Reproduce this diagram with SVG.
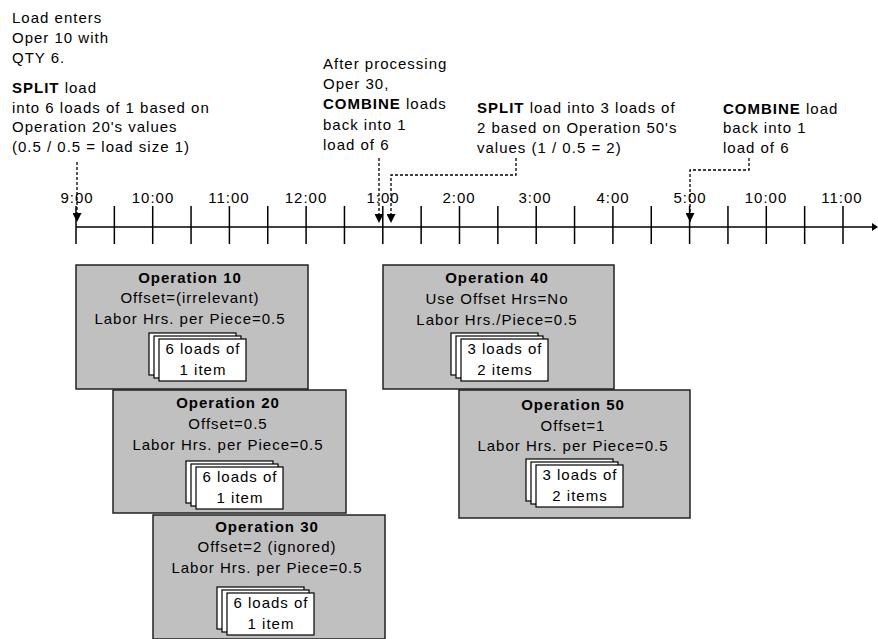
<svg xmlns="http://www.w3.org/2000/svg" xmlns:xlink="http://www.w3.org/1999/xlink" width="878" height="639" viewBox="0 0 878 639">
<defs>
<style>
text{font-family:"Liberation Sans",Arial,sans-serif;font-size:15px;letter-spacing:1px;fill:#000}
.b{font-weight:bold}
.m{text-anchor:middle}
.box{fill:#c0c0c0;stroke:#222;stroke-width:1.5}
.card{fill:#fff;stroke:#000;stroke-width:1.2}
.tick{stroke:#000;stroke-width:1.5}
.dash{fill:none;stroke:#000;stroke-width:1.3;stroke-dasharray:3,2}
</style>
<marker id="ah" viewBox="0 0 10 10" refX="10" refY="5" markerWidth="9" markerHeight="9" markerUnits="userSpaceOnUse" orient="auto">
<path d="M0,0 L10,5 L0,10 Z" fill="#000"/>
</marker>
<g id="stack">
<rect class="card" x="0" y="0" width="87" height="42"/>
<rect class="card" x="5" y="3" width="87" height="42"/>
<rect class="card" x="10" y="6" width="87" height="42"/>
</g>
</defs>
<rect width="878" height="639" fill="#fff"/>

<g id="notes">
<text x="12" y="23">Load enters</text>
<text x="12" y="43">Oper 10 with</text>
<text x="12" y="63">QTY 6.</text>
<text x="12" y="93"><tspan class="b">SPLIT</tspan> load</text>
<text x="12" y="113">into 6 loads of 1 based on</text>
<text x="12" y="132">Operation 20's values</text>
<text x="12" y="152">(0.5 / 0.5 = load size 1)</text>

<text x="323" y="69">After processing</text>
<text x="323" y="89">Oper 30,</text>
<text x="323" y="109"><tspan class="b">COMBINE</tspan> loads</text>
<text x="323" y="130">back into 1</text>
<text x="323" y="150">load of 6</text>

<text x="477" y="113"><tspan class="b">SPLIT</tspan> load into 3 loads of</text>
<text x="477" y="133">2 based on Operation 50's</text>
<text x="477" y="153">values (1 / 0.5 = 2)</text>

<text x="723" y="114"><tspan class="b">COMBINE</tspan> load</text>
<text x="723" y="133">back into 1</text>
<text x="723" y="153">load of 6</text>
</g>

<g id="timeline">
<line x1="76" y1="227" x2="872" y2="227" class="tick"/>
<path d="M872,223 L878,227 L872,231 Z" fill="#000"/>
<g class="tick">
<line x1="76" y1="206" x2="76" y2="244"/>
<line x1="114.35" y1="206" x2="114.35" y2="244"/>
<line x1="152.7" y1="206" x2="152.7" y2="244"/>
<line x1="191.05" y1="206" x2="191.05" y2="244"/>
<line x1="229.4" y1="206" x2="229.4" y2="244"/>
<line x1="267.75" y1="206" x2="267.75" y2="244"/>
<line x1="306.1" y1="206" x2="306.1" y2="244"/>
<line x1="344.45" y1="206" x2="344.45" y2="244"/>
<line x1="382.8" y1="206" x2="382.8" y2="244"/>
<line x1="421.15" y1="206" x2="421.15" y2="244"/>
<line x1="459.5" y1="206" x2="459.5" y2="244"/>
<line x1="497.85" y1="206" x2="497.85" y2="244"/>
<line x1="536.2" y1="206" x2="536.2" y2="244"/>
<line x1="574.55" y1="206" x2="574.55" y2="244"/>
<line x1="612.9" y1="206" x2="612.9" y2="244"/>
<line x1="651.25" y1="206" x2="651.25" y2="244"/>
<line x1="689.6" y1="206" x2="689.6" y2="244"/>
<line x1="727.95" y1="206" x2="727.95" y2="244"/>
<line x1="766.3" y1="206" x2="766.3" y2="244"/>
<line x1="804.65" y1="206" x2="804.65" y2="244"/>
<line x1="843" y1="206" x2="843" y2="244"/>
</g>
<g class="labels">
<text class="m" x="77" y="203">9:00</text>
<text class="m" x="153" y="203">10:00</text>
<text class="m" x="229" y="203">11:00</text>
<text class="m" x="306" y="203">12:00</text>
<text class="m" x="383" y="203">1:00</text>
<text class="m" x="459" y="203">2:00</text>
<text class="m" x="535" y="203">3:00</text>
<text class="m" x="613" y="203">4:00</text>
<text class="m" x="690" y="203">5:00</text>
<text class="m" x="766" y="203">10:00</text>
<text class="m" x="842" y="203">11:00</text>
</g>
</g>

<g id="connectors">
<path class="dash" d="M77,162 V222" marker-end="url(#ah)"/>
<path class="dash" d="M379,158 V223" marker-end="url(#ah)"/>
<path class="dash" d="M516,158 V175 H391 V223" marker-end="url(#ah)"/>
<path class="dash" d="M749,158 V170 H690 V222" marker-end="url(#ah)"/>
</g>

<g id="op10">
<rect class="box" x="76" y="265" width="232" height="124"/>
<text class="m b" x="190" y="283">Operation 10</text>
<text class="m" x="190" y="303">Offset=(irrelevant)</text>
<text class="m" x="190" y="324">Labor Hrs. per Piece=0.5</text>
<use xlink:href="#stack" x="149" y="333"/>
<text class="m" x="203" y="354">6 loads of</text>
<text class="m" x="203" y="375">1 item</text>
</g>

<g id="op20">
<rect class="box" x="113" y="390" width="233" height="123"/>
<text class="m b" x="228" y="408">Operation 20</text>
<text class="m" x="228" y="429">Offset=0.5</text>
<text class="m" x="228" y="450">Labor Hrs. per Piece=0.5</text>
<use xlink:href="#stack" x="186" y="461"/>
<text class="m" x="240" y="482">6 loads of</text>
<text class="m" x="240" y="503">1 item</text>
</g>

<g id="op30">
<rect class="box" x="153" y="515" width="232" height="124"/>
<text class="m b" x="267" y="532">Operation 30</text>
<text class="m" x="267" y="552">Offset=2 (ignored)</text>
<text class="m" x="267" y="573">Labor Hrs. per Piece=0.5</text>
<use xlink:href="#stack" x="217" y="587"/>
<text class="m" x="271" y="608">6 loads of</text>
<text class="m" x="271" y="629">1 item</text>
</g>

<g id="op40">
<rect class="box" x="383" y="265" width="231" height="124"/>
<text class="m b" x="497" y="283">Operation 40</text>
<text class="m" x="497" y="304">Use Offset Hrs=No</text>
<text class="m" x="497" y="325">Labor Hrs./Piece=0.5</text>
<use xlink:href="#stack" x="451" y="333"/>
<text class="m" x="505" y="354">3 loads of</text>
<text class="m" x="505" y="375">2 items</text>
</g>

<g id="op50">
<rect class="box" x="459" y="390" width="231" height="128"/>
<text class="m b" x="573" y="410">Operation 50</text>
<text class="m" x="573" y="431">Offset=1</text>
<text class="m" x="573" y="451">Labor Hrs. per Piece=0.5</text>
<use xlink:href="#stack" x="526" y="459"/>
<text class="m" x="580" y="480">3 loads of</text>
<text class="m" x="580" y="501">2 items</text>
</g>
</svg>
